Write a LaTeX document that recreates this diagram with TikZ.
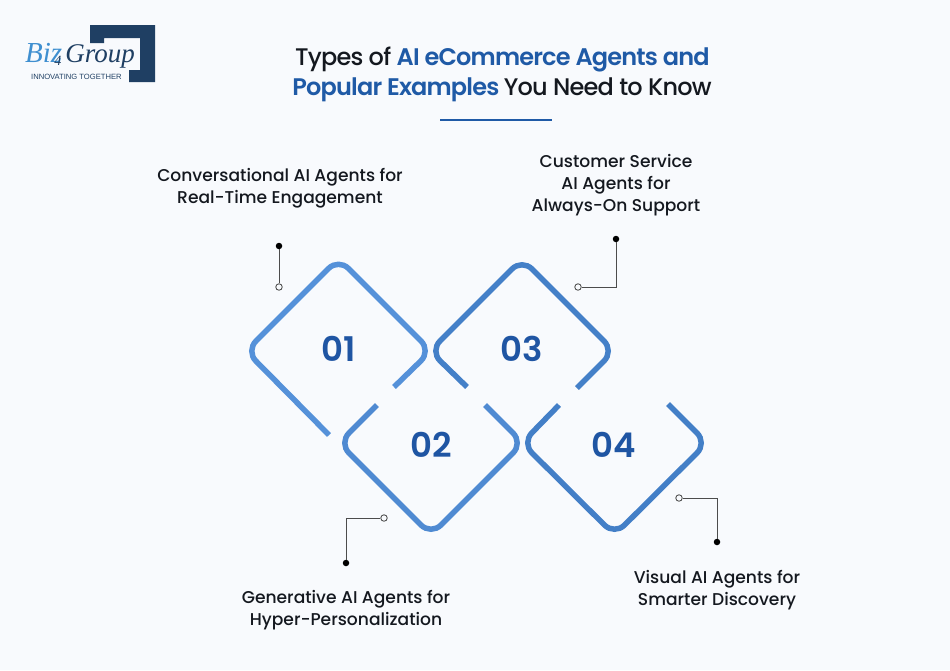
\documentclass[tikz,border=0pt]{standalone}
\usepackage{fontspec}
\setmainfont{Poppins Medium}[BoldFont=Poppins SemiBold]
\newfontfamily\titlefont{Poppins Medium}[BoldFont=Poppins SemiBold,LetterSpace=-3.4]
\newfontfamily\logoserif{Liberation Serif}
\newfontfamily\logosans{Liberation Sans}
\definecolor{bgc}{HTML}{F8FAFD}
\definecolor{navy}{HTML}{1F3F63}
\definecolor{logoblue}{HTML}{3F8FD0}
\definecolor{numblue}{HTML}{1F55A3}
\definecolor{titleblue}{HTML}{1F5AA6}
\definecolor{inkc}{HTML}{14181F}
\definecolor{dA}{HTML}{5591D9}
\definecolor{dB}{HTML}{4F8AD2}
\definecolor{dC}{HTML}{4480C8}
\definecolor{dD}{HTML}{437FC7}
\tikzset{
  x=1pt,y=-1pt,
  ring/.style={line width=5.5pt,rounded corners=14pt,line cap=butt},
  num/.style={font=\bfseries\fontsize{34}{34}\selectfont,text=numblue,inner sep=0pt},
  lbl/.style={font=\fontsize{17.1}{22}\selectfont,text=inkc,align=center,inner sep=0pt},
  ttl/.style={font=\titlefont\fontsize{24}{30}\selectfont,text=inkc,inner sep=0pt,anchor=center},
  lead/.style={draw=black!70,line width=0.9pt},
  opendot/.style={circle,draw=black!75,fill=bgc,line width=0.8pt,minimum size=6.5pt,inner sep=0pt},
  fulldot/.style={circle,fill=black,minimum size=6.5pt,inner sep=0pt},
  logotxt/.style={inner sep=0pt,anchor=base west},
}
\begin{document}
\begin{tikzpicture}
\useasboundingbox (0,0) rectangle (950,670);
\fill[bgc] (0,0) rectangle (950,670);
% logo
\fill[navy] (90,25)--(155,25)--(155,82)--(129,82)--(129,70)--(140,70)--(140,38)--(104,38)--(104,43)--(90,43)--cycle;
\node[logotxt] (logoa) at (25,62) {\logoserif\itshape\fontsize{29}{29}\selectfont\textcolor{logoblue}{Biz}\kern-8pt\raisebox{-3pt}{\fontsize{14}{14}\selectfont\textcolor{navy}{4}}\kern4pt\fontsize{27}{27}\selectfont\textcolor{navy}{Group}};
\node[logotxt] (logoc) at (31,79) {\logosans\fontsize{7.6}{8}\selectfont\textcolor{navy}{INNOVATING TOGETHER}};
% title
\node[ttl] (t1) at (502,60) {Types of \textcolor{titleblue}{\textbf{AI eCommerce Agents and}}};
\node[ttl] (t2) at (502,90) {\textcolor{titleblue}{\textbf{Popular Examples}} You Need to Know};
\coordinate (ra) at (440,120);
\coordinate (rb) at (552,120);
\draw[titleblue,line width=1.5pt] (ra)--(rb);
% rings
\draw[ring,dA] (394,387)--(431,351)--(338.5,258.5)--(246,351)--(329,435);
\draw[ring,dB] (377,405)--(339,443)--(431,535)--(523,443)--(485,405);
\draw[ring,dC] (467,387)--(430,351)--(522,259)--(614,351)--(577,388);
\draw[ring,dD] (559,405)--(522,443)--(614.5,535)--(707,443)--(668,404);
% numbers
\node[num] (n1) at (339,349) {01};
\node[num] (n2) at (431,445) {02};
\node[num] (n3) at (522,349) {03};
\node[num] (n4) at (614,445) {04};
% leaders
\node[opendot] (o1) at (279,287) {};
\node[fulldot] (f1) at (279,246) {};
\draw[lead] (f1)--(o1);
\node[opendot] (o3) at (578,287) {};
\node[fulldot] (f3) at (616,239) {};
\draw[lead] (o3)-|(f3);
\node[opendot] (o2) at (384,518) {};
\node[fulldot] (f2) at (346,563) {};
\draw[lead] (o2)-|(f2);
\node[opendot] (o4) at (679,498) {};
\node[fulldot] (f4) at (717,542) {};
\draw[lead] (o4)-|(f4);
% labels
\node[lbl] (l1) at (280,188) {Conversational AI Agents for\\Real-Time Engagement};
\node[lbl] (l3) at (616,185) {Customer Service\\AI Agents for\\Always-On Support};
\node[lbl] (l2) at (346,610) {Generative AI Agents for\\Hyper-Personalization};
\node[lbl] (l4) at (717,590) {Visual AI Agents for\\Smarter Discovery};
\end{tikzpicture}
\end{document}
